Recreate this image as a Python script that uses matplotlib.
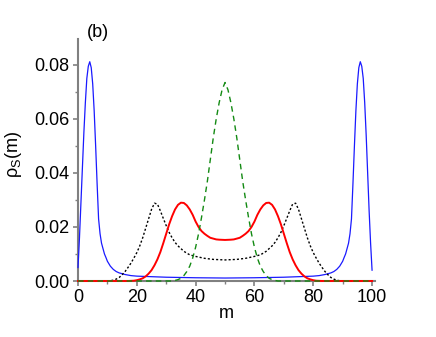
import matplotlib
matplotlib.use("Agg")
import matplotlib.pyplot as plt
from matplotlib.ticker import MultipleLocator, FormatStrFormatter

plt.rcParams['font.family'] = ['Liberation Sans', 'DejaVu Sans']
plt.rcParams['mathtext.fontset'] = 'custom'
plt.rcParams['mathtext.rm'] = 'Liberation Sans'
plt.rcParams['mathtext.it'] = 'Liberation Sans:italic'

# blue solid curve (edge peaks)
blue_m = [0, 0.5, 1, 1.5, 2, 2.5, 3, 3.5, 4, 4.5, 5, 5.5, 6, 6.5, 7, 7.5, 8, 8.5, 9, 9.5, 10,
          11, 12, 13, 14, 16, 18, 20, 30, 40, 50,
          60, 70, 80, 82, 84, 86, 87, 88, 89, 90, 90.5, 91, 91.5, 92, 92.5, 93, 93.5, 94, 94.5,
          95, 95.5, 96, 96.5, 97, 97.5, 98, 98.5, 99, 99.5, 100]
blue_rho = [0.005, 0.016, 0.029, 0.042, 0.055, 0.066, 0.075, 0.0795, 0.0812, 0.079, 0.073, 0.063,
            0.050, 0.036, 0.023, 0.0175, 0.014, 0.012, 0.010, 0.0087, 0.0073,
            0.0055, 0.0043, 0.0035, 0.003, 0.0024, 0.002, 0.0018, 0.0014, 0.0012, 0.0011,
            0.0012, 0.0014, 0.0018, 0.002, 0.0024, 0.003, 0.0035, 0.0043, 0.0055, 0.0073, 0.0087,
            0.010, 0.012, 0.014, 0.0175, 0.023, 0.036, 0.050, 0.063,
            0.073, 0.079, 0.0812, 0.0795, 0.075, 0.066, 0.054, 0.040, 0.026, 0.014, 0.004]

# black dotted curve
black_m = [0, 10, 11, 12, 13, 14, 15, 16, 17, 18, 19, 20, 21, 22, 23, 24, 25, 26, 27, 28, 29, 30,
           31, 32, 33, 34, 35, 36, 37, 38, 40, 43, 46, 50,
           54, 57, 60, 62, 63, 64, 65, 66, 67, 68, 69, 70, 71, 72, 73, 74, 75, 76, 77, 78, 79,
           80, 81, 82, 83, 84, 85, 86, 87, 88, 89, 90, 100]
black_rho = [0, 0, 0.0001, 0.0003, 0.0007, 0.0013, 0.0023, 0.0035, 0.005, 0.0066, 0.0085, 0.0105,
             0.013, 0.016, 0.0195, 0.023, 0.0265, 0.0288, 0.0285, 0.026, 0.0232, 0.0205,
             0.018, 0.016, 0.0143, 0.013, 0.012, 0.011, 0.0103, 0.0097, 0.0091, 0.0084, 0.008, 0.0078,
             0.008, 0.0084, 0.0091, 0.0097, 0.0103, 0.011, 0.012, 0.013, 0.0143, 0.016, 0.018,
             0.0205, 0.0232, 0.026, 0.0285, 0.0288, 0.0265, 0.023, 0.0195, 0.016, 0.013,
             0.0105, 0.0085, 0.0066, 0.005, 0.0035, 0.0023, 0.0013, 0.0007, 0.0003, 0.0001, 0, 0]

# red solid curve
red_m = [0, 17, 19, 20, 21, 22, 23, 24, 25, 26, 27, 28, 29, 30, 31, 32, 33, 34, 35, 36, 37, 38,
         39, 40, 41, 42, 43, 44, 45, 46, 47, 48, 50,
         52, 53, 54, 55, 56, 57, 58, 59, 60, 61, 62, 63, 64, 65, 66, 67, 68, 69, 70, 71, 72,
         73, 74, 75, 76, 77, 78, 79, 80, 81, 83, 100]
red_rho = [0, 0, 0.0001, 0.0003, 0.0006, 0.001, 0.0017, 0.0027, 0.004, 0.0058, 0.008, 0.0107,
           0.014, 0.0175, 0.021, 0.024, 0.0265, 0.0282, 0.029, 0.0289, 0.028, 0.0265,
           0.0245, 0.022, 0.020, 0.0185, 0.0175, 0.0167, 0.016, 0.0157, 0.0154, 0.0153, 0.0152,
           0.0153, 0.0154, 0.0157, 0.016, 0.0167, 0.0175, 0.0185, 0.020, 0.022, 0.0245, 0.0265,
           0.028, 0.0289, 0.029, 0.0282, 0.0265, 0.024, 0.021, 0.0175, 0.014, 0.0107,
           0.008, 0.0058, 0.004, 0.0027, 0.0017, 0.001, 0.0006, 0.0003, 0.0001, 0, 0]

# green dashed curve
green_m = [0, 32, 33, 34, 35, 36, 37, 38, 39, 40, 41, 42, 43, 44, 45, 46, 47, 48, 49, 50,
           51, 52, 53, 54, 55, 56, 57, 58, 59, 60, 61, 62, 63, 64, 65, 66, 67, 68, 100]
green_rho = [0, 0, 0.0002, 0.0005, 0.001, 0.002, 0.0035, 0.0055, 0.0085, 0.0125, 0.0175, 0.0235,
             0.030, 0.037, 0.045, 0.053, 0.060, 0.066, 0.0708, 0.0735,
             0.0708, 0.066, 0.060, 0.053, 0.045, 0.037, 0.030, 0.0235, 0.0175, 0.0125, 0.0085,
             0.0055, 0.0035, 0.002, 0.001, 0.0005, 0.0002, 0, 0]

x_ticks = [0, 20, 40, 60, 80, 100]
y_ticks = [0.00, 0.02, 0.04, 0.06, 0.08]

fig = plt.figure(figsize=(4.36, 3.37), dpi=100)
ax = fig.add_axes([78 / 436, 1 - 281 / 337, (375 - 78) / 436, (281 - 39.3) / 337])

ax.plot(blue_m, blue_rho, color='#1a1aff', lw=0.9, clip_on=False, zorder=3)
ax.plot(black_m, black_rho, color='black', lw=1.0, ls=(0, (1.5, 1.5)), clip_on=False, zorder=3)
ax.plot(green_m, green_rho, color='#138a13', lw=1.0, ls=(0, (4, 3)), clip_on=False, zorder=4)
ax.plot(red_m, red_rho, color='#ff0000', lw=1.4, clip_on=False, zorder=3)

ax.set_xlim(0, 101)
ax.set_ylim(0, 0.0895)
ax.set_xticks(x_ticks)
ax.set_yticks(y_ticks)
ax.xaxis.set_minor_locator(MultipleLocator(10))
ax.yaxis.set_minor_locator(MultipleLocator(0.01))
ax.yaxis.set_major_formatter(FormatStrFormatter('%.2f'))

for side in ['top', 'right']:
    ax.spines[side].set_visible(False)
for side in ['left', 'bottom']:
    ax.spines[side].set_color('#808080')
    ax.spines[side].set_linewidth(1.5)
    ax.spines[side].set_zorder(1)

ax.tick_params(which='major', length=3.5, width=1.2, color='#808080', labelsize=13, pad=2.5)
ax.tick_params(which='minor', length=2.5, width=1.0, color='#808080')

ax.set_xlabel('m', fontsize=13, labelpad=-1)
ax.set_ylabel(r'ρ$_\mathrm{S}$(m)', fontsize=13)
ax.yaxis.set_label_coords((24 - 78) / 297, (281 - 154) / 241.7)
fig.text(98 / 436, 1 - 32.5 / 337, '(b)', fontsize=13, ha='center', va='center')

fig.savefig('out.png', dpi=100)
